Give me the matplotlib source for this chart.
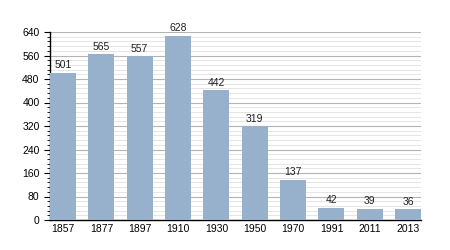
import matplotlib
matplotlib.use("Agg")
import matplotlib.pyplot as plt
from matplotlib.ticker import MultipleLocator

years = ["1857", "1877", "1897", "1910", "1930", "1950", "1970", "1991", "2011", "2013"]
population = [501, 565, 557, 628, 442, 319, 137, 42, 39, 36]

plt.rcParams['font.family'] = ['Liberation Sans', 'DejaVu Sans']

fig = plt.figure(figsize=(4.5, 2.5), dpi=100)
ax = fig.add_axes([0.111, 0.12, 0.825, 0.752])

x = range(len(years))
bars = ax.bar(x, population, width=0.68, color='#97b0cb', zorder=3)

# value labels above each bar
for xi, v in zip(x, population):
    ax.text(xi, v + 8, str(v), ha='center', va='bottom', fontsize=7.5, color='#222222')

ax.set_xlim(-0.34, len(years) - 1 + 0.34)
ax.set_ylim(0, 640)
ax.set_xticks(list(x))
ax.set_xticklabels(years)
ax.yaxis.set_major_locator(MultipleLocator(80))
ax.yaxis.set_minor_locator(MultipleLocator(16))

ax.grid(axis='y', which='major', color='#b4b4b4', linewidth=0.8, zorder=0)
ax.grid(axis='y', which='minor', color='#e0e0e0', linewidth=0.6, zorder=0)

for s in ['top', 'right']:
    ax.spines[s].set_visible(False)
ax.spines['left'].set_linewidth(1.0)
ax.spines['bottom'].set_linewidth(1.0)

ax.tick_params(axis='x', length=0, labelsize=7.5, pad=3)
ax.tick_params(axis='y', which='major', length=4, labelsize=7.5, direction='out')
ax.tick_params(axis='y', which='minor', length=2, direction='out')

fig.savefig("out.png", dpi=100)
